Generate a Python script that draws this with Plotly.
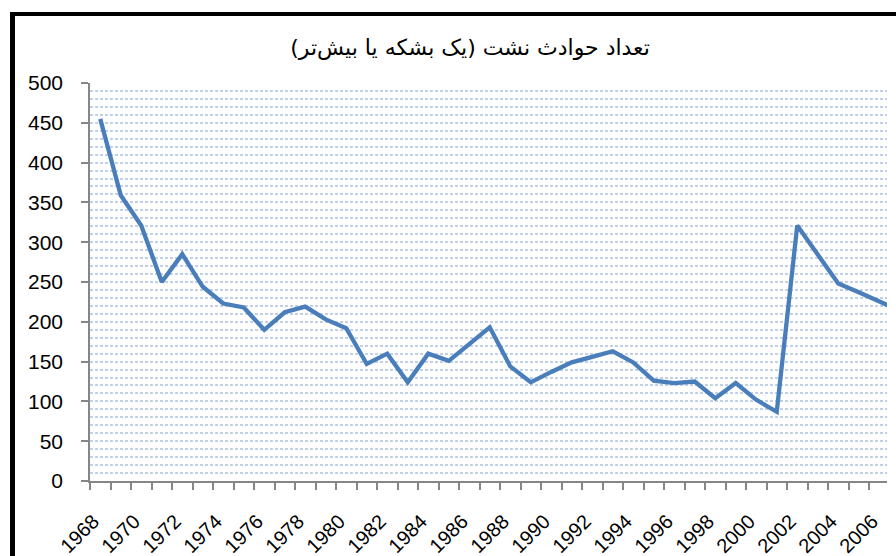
import plotly.graph_objects as go

years = list(range(1968, 2008))
spills = [455, 359, 321, 250, 285, 244, 223, 218, 190, 212,
          219, 203, 192, 147, 160, 124, 160, 151, 172, 193,
          144, 124, 137, 149, 156, 163, 149, 126, 123, 125,
          104, 123, 102, 87, 321, 284, 248, 237, 226, 214]
label_years = list(range(1968, 2007, 2))
y_ticks = list(range(0, 501, 50))
title_text = "تعداد حوادث نشت (یک بشکه یا بیش\u200cتر)"

W, H = 896, 556
L, R, T, B = 90, 9, 83, 75
pw, ph = W - L - R, H - T - B
spacing = 20.5
x0 = 1967.5
x1 = x0 + pw / spacing

fig = go.Figure()
fig.add_trace(go.Scatter(
    x=years, y=spills, mode="lines",
    line=dict(color="#4a7ebb", width=4.3),
    showlegend=False, hoverinfo="x+y"))

grid_col = "#bfd0e8"
fig.update_layout(
    width=W, height=H,
    margin=dict(l=L, r=R, t=T, b=B),
    paper_bgcolor="white", plot_bgcolor="white",
    title=dict(text=title_text, x=470 / W, xanchor="center",
               y=1 - 47 / H, yanchor="middle",
               font=dict(family="DejaVu Sans", size=22, color="black")),
    font=dict(family="Liberation Sans", color="black"),
    xaxis=dict(range=[x0, x1], tickmode="array", tickvals=label_years,
               ticktext=[str(v) for v in label_years], tickangle=-45,
               ticks="", showgrid=False, zeroline=False, automargin=False,
               showline=True, linecolor="#868686", linewidth=1.5,
               tickfont=dict(size=20), ticklabelstandoff=19, ticklabelshift=-7,
               minor=dict(tickmode="linear", tick0=x0, dtick=1, ticks="outside",
                          ticklen=7, tickcolor="#868686", tickwidth=1.5,
                          showgrid=False)),
    yaxis=dict(range=[0, 500], tickmode="array", tickvals=y_ticks,
               ticks="outside", ticklen=7, tickcolor="#868686", tickwidth=1.5,
               showline=True, linecolor="#868686", linewidth=1.5, automargin=False,
               showgrid=True, gridcolor=grid_col, griddash="3px,2px", gridwidth=1.5,
               zeroline=False, tickfont=dict(size=21), ticklabelstandoff=14,
               minor=dict(tickmode="linear", tick0=0, dtick=10, showgrid=True,
                          gridcolor=grid_col, griddash="3px,2px", gridwidth=1.5,
                          ticks="")),
)

# black frame (left and top) of the cropped chart
lx = (12.5 - L) / pw
ty = (H - B - 14) / ph
fig.add_shape(type="line", xref="paper", yref="paper",
              x0=lx, x1=lx, y0=-(B + 5) / ph, y1=ty + 2 / ph,
              line=dict(color="black", width=5), layer="above")
fig.add_shape(type="line", xref="paper", yref="paper",
              x0=lx, x1=(W + 5 - L) / pw, y0=ty, y1=ty,
              line=dict(color="black", width=4), layer="above")

fig.write_html("out.html", config={"displayModeBar": False},
               post_script="document.body.style.margin='0';")
